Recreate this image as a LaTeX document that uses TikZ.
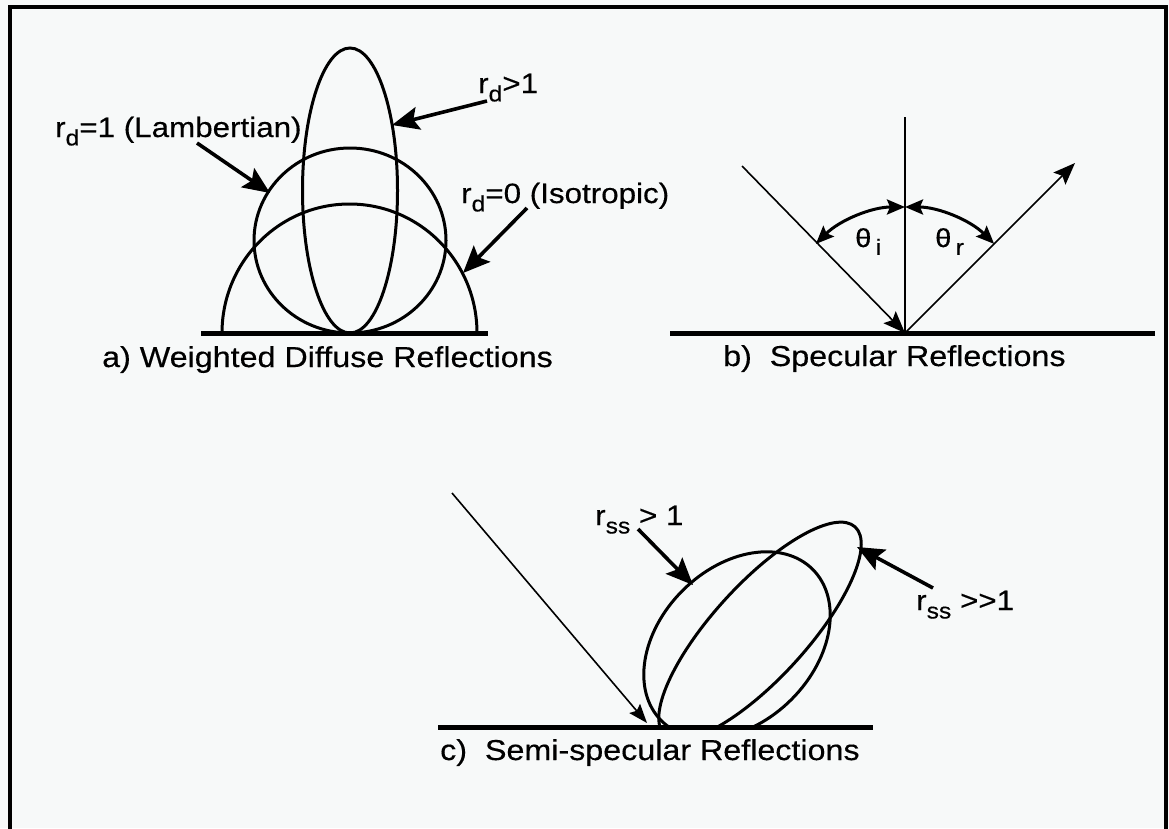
\documentclass[tikz,border=0pt]{standalone}
\usepackage{fontspec}
\setmainfont{Liberation Sans}[FakeStretch=1.12, FakeBold=0.4]
\usetikzlibrary{arrows.meta}
\definecolor{bgc}{RGB}{247,249,249}
\newcommand{\lsub}[1]{\raisebox{-0.3em}{\fontsize{22}{22}\selectfont #1}}
\tikzset{
  lbl/.style={inner sep=0pt, anchor=base west, font=\fontsize{28}{30}\selectfont},
  ttl/.style={inner sep=0pt, anchor=base west, font=\fontsize{28.8}{32}\selectfont},
  curve/.style={line width=3pt},
  ground/.style={line width=5pt},
  ray/.style={line width=1.6pt},
  raytip/.style={ray, -{Stealth[length=22pt,width=17pt,inset=4pt]}},
  pointer/.style={line width=3.6pt, -{Stealth[length=27pt,width=23pt,inset=5pt]}},
  anglearc/.style={line width=3pt, {Stealth[length=18pt,width=15pt,inset=3pt]}-{Stealth[length=18pt,width=15pt,inset=3pt]}}
}
\begin{document}
\begin{tikzpicture}[x=1pt,y=-1pt]
\useasboundingbox (0,0) rectangle (1169,828);
\fill[bgc] (0,0) rectangle (1169,828);
% frame
\draw[line width=3.5pt] (10,830) -- (10,7) -- (1166,7) -- (1166,830);

% ---------- a) Weighted diffuse ----------
\coordinate (a0) at (350,333);
\draw[curve] (222,333) arc[start angle=180, end angle=0, x radius=127.5pt, y radius=129pt];
\draw[curve] (350,240.5) ellipse[x radius=96pt, y radius=92.5pt];
\draw[curve] (350,190.5) ellipse[x radius=47.5pt, y radius=142.5pt];
\draw[ground] (201,333) -- (488,333);
\node[ttl] (ta) at (102,367) {a) Weighted Diffuse Reflections};

\node[lbl] (l1) at (478,93) {r\lsub{d}>1};
\coordinate (l1s) at (487,101);
\coordinate (l1t) at (392,125);
\draw[pointer] (l1s) -- (l1t);

\node[lbl] (l2) at (55,137) {r\lsub{d}=1 (Lambertian)};
\coordinate (l2s) at (197,143);
\coordinate (l2t) at (270,193);
\draw[pointer] (l2s) -- (l2t);

\node[lbl] (l3) at (461,203) {r\lsub{d}=0 (Isotropic)};
\coordinate (l3s) at (527,208);
\coordinate (l3t) at (463,273);
\draw[pointer] (l3s) -- (l3t);

% ---------- b) Specular ----------
\coordinate (bo) at (905,333);
\coordinate (bn) at (905,117);
\coordinate (bi) at (742,166);
\coordinate (br) at (1075,163);
\draw[ground] (670,333) -- (1155,333);
\draw[line width=2.2pt] (bn) -- (bo);
\draw[raytip] (bi) -- (bo);
\draw[raytip] (bo) -- (br);
\draw[anglearc] (815.9,243.9) arc[start angle=135, end angle=90, radius=126pt];
\draw[anglearc] (905,207) arc[start angle=90, end angle=45, radius=126pt];
\node[inner sep=0pt, anchor=base west, font=\fontsize{26}{28}\selectfont] (thi) at (855,247) {θ\,\lsub{i}};
\node[inner sep=0pt, anchor=base west, font=\fontsize{26}{28}\selectfont] (thr) at (935,247) {θ\,\lsub{r}};
\node[ttl] (tb) at (723,366) {b)\ \ Specular Reflections};

% ---------- c) Semi-specular ----------
\begin{scope}
\clip (400,400) rectangle (1000,727);
\draw[curve, rotate around={45:(737,645)}] (737,645) ellipse[x radius=107pt, y radius=77pt];
\draw[curve, rotate around={47.6:(760,631)}] (760,631) ellipse[x radius=141pt, y radius=47pt];
\end{scope}
\draw[ground] (438,727) -- (873,727);
\coordinate (ci) at (452,493);
\coordinate (ct) at (647,723);
\draw[ray, -{Stealth[length=19pt,width=14pt,inset=3pt]}] (ci) -- (ct);
\node[ttl] (tc) at (440,760) {c)\ \ Semi-specular Reflections};

\node[lbl] (l4) at (595,525) {r\lsub{ss} > 1};
\coordinate (l4s) at (638,529);
\coordinate (l4t) at (693,585);
\draw[pointer] (l4s) -- (l4t);

\node[lbl] (l5) at (916,610) {r\lsub{ss} {>}{>}1};
\coordinate (l5s) at (933,588);
\coordinate (l5t) at (857,547);
\draw[pointer] (l5s) -- (l5t);
\end{tikzpicture}
\end{document}
